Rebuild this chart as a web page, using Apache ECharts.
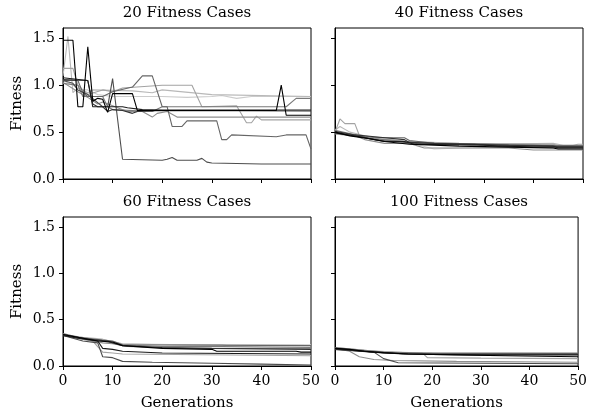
<!DOCTYPE html>
<html>
<head>
<meta charset="utf-8">
<script src="https://cdn.jsdelivr.net/npm/echarts@6/dist/echarts.min.js"></script>
<style>
  html, body { margin: 0; padding: 0; background: #fff; }
  #chart { width: 590px; height: 412px; }
</style>
</head>
<body>
<div id="chart"></div>
<script>
// panel titles and axis ticks
const panelTitles = ["20 Fitness Cases", "40 Fitness Cases", "60 Fitness Cases", "100 Fitness Cases"];
const xTicks = [0, 10, 20, 30, 40, 50];
const yTicks = [0, 0.5, 1.0, 1.5];

// each run: [generation, fitness] at the points where it changes
const runs20 = [
  [[0,1.48],[2,1.48],[3,0.77],[4,0.77],[5,1.41],[6,0.83],[7,0.86],[8,0.85],[9,0.71],[10,0.91],[14,0.91],[15,0.73],[43,0.73],[44,1.0],[45,0.68],[50,0.68]],
  [[0,1.08],[5,1.05],[6,0.77],[12,0.77],[13,0.76],[16,0.74],[20,0.735],[50,0.735]],
  [[0,1.06],[5,1.05],[6,0.8],[7,0.77],[8,0.77],[9,0.72],[10,0.74],[12,0.73],[14,0.7],[15,0.72],[20,0.73],[50,0.725]],
  [[0,1.05],[2,1.02],[3,0.95],[5,0.9],[8,0.77],[9,0.77],[10,1.07],[12,0.21],[20,0.2],[21,0.21],[22,0.23],[23,0.2],[27,0.2],[28,0.22],[29,0.18],[30,0.17],[40,0.16],[50,0.16]],
  [[0,1.05],[3,1.05],[4,0.92],[5,0.88],[8,0.88],[10,0.93],[14,0.98],[16,1.1],[18,1.1],[20,0.77],[21,0.77],[22,0.56],[24,0.56],[25,0.62],[31,0.62],[32,0.42],[33,0.42],[34,0.47],[43,0.45],[45,0.47],[49,0.47],[50,0.32]],
  [[0,1.02],[3,1.0],[4,0.88],[8,0.88],[9,0.77],[10,0.74],[18,0.72],[20,0.77],[45,0.77],[47,0.86],[50,0.86]],
  [[0,1.03],[3,0.93],[5,0.87],[7,0.8],[8,0.82],[10,0.78],[11,0.76],[13,0.72],[16,0.72],[18,0.66],[19,0.7],[21,0.72],[23,0.66],[50,0.66]],
  [[0,1.18],[2,1.18],[3,1.0],[5,0.9],[8,0.95],[10,0.93],[12,0.97],[20,1.0],[26,1.0],[28,0.77],[35,0.78],[37,0.6],[38,0.6],[39,0.67],[40,0.63],[50,0.63]],
  [[0,1.1],[1,1.52],[2,0.92],[3,0.97],[5,0.92],[6,0.95],[14,0.94],[18,0.92],[20,0.95],[30,0.9],[50,0.88]],
  [[0,1.05],[4,0.95],[5,0.95],[7,0.9],[10,0.88],[20,0.88],[25,0.87],[30,0.88],[32,0.89],[35,0.86],[38,0.88],[50,0.88]]
];
const runs40 = [
  [[0,0.5],[3,0.46],[7,0.43],[10,0.4],[15,0.37],[25,0.35],[35,0.34],[44,0.33],[45,0.32],[50,0.32]],
  [[0,0.49],[5,0.45],[8,0.42],[10,0.4],[14,0.4],[16,0.37],[30,0.36],[40,0.34],[50,0.34]],
  [[0,0.51],[4,0.47],[8,0.45],[14,0.42],[15,0.39],[20,0.38],[35,0.36],[44,0.35],[45,0.33],[50,0.33]],
  [[0,0.5],[6,0.44],[9,0.41],[12,0.4],[18,0.37],[28,0.37],[33,0.35],[50,0.35]],
  [[0,0.5],[3,0.47],[6,0.45],[10,0.44],[14,0.44],[15,0.41],[20,0.38],[40,0.36],[45,0.35],[50,0.35]],
  [[0,0.52],[5,0.46],[7,0.43],[12,0.41],[17,0.38],[30,0.37],[44,0.36],[45,0.34],[50,0.34]],
  [[0,0.48],[4,0.46],[6,0.42],[10,0.38],[15,0.38],[18,0.33],[25,0.33],[35,0.33],[40,0.31],[50,0.31]],
  [[0,0.5],[1,0.64],[2,0.59],[4,0.59],[5,0.45],[8,0.43],[15,0.4],[25,0.38],[44,0.37],[45,0.36],[48,0.36],[49,0.37],[50,0.37]],
  [[0,0.52],[1,0.56],[3,0.5],[6,0.46],[10,0.42],[16,0.39],[30,0.37],[44,0.38],[46,0.36],[50,0.36]],
  [[0,0.49],[5,0.45],[8,0.43],[13,0.41],[17,0.36],[20,0.32],[25,0.33],[35,0.34],[40,0.33],[50,0.32]]
];
const runs60 = [
  [[0,0.34],[4,0.3],[7,0.27],[10,0.26],[12,0.22],[20,0.19],[30,0.18],[31,0.16],[47,0.16],[48,0.15],[50,0.15]],
  [[0,0.33],[3,0.3],[7,0.27],[8,0.19],[10,0.18],[12,0.16],[20,0.14],[50,0.13]],
  [[0,0.34],[5,0.29],[7,0.28],[9,0.27],[10,0.25],[12,0.22],[20,0.2],[30,0.19],[50,0.18]],
  [[0,0.33],[4,0.27],[7,0.25],[8,0.1],[10,0.09],[12,0.05],[18,0.04],[30,0.03],[40,0.02],[50,0.01]],
  [[0,0.34],[3,0.31],[8,0.28],[10,0.27],[12,0.23],[50,0.22]],
  [[0,0.35],[4,0.3],[7,0.28],[12,0.23],[20,0.21],[32,0.21],[50,0.2]],
  [[0,0.33],[5,0.28],[8,0.25],[10,0.24],[13,0.21],[25,0.19],[50,0.19]],
  [[0,0.34],[6,0.27],[8,0.15],[10,0.14],[12,0.13],[50,0.11]],
  [[0,0.34],[4,0.31],[8,0.29],[12,0.24],[20,0.23],[32,0.23],[33,0.22],[50,0.22]],
  [[0,0.34],[5,0.3],[9,0.27],[12,0.24],[25,0.23],[50,0.23]]
];
const runs100 = [
  [[0,0.19],[3,0.18],[6,0.16],[10,0.145],[15,0.13],[25,0.12],[35,0.11],[50,0.1]],
  [[0,0.19],[4,0.17],[8,0.15],[14,0.13],[20,0.125],[30,0.12],[50,0.12]],
  [[0,0.18],[5,0.16],[10,0.14],[16,0.13],[30,0.13],[50,0.13]],
  [[0,0.18],[3,0.17],[8,0.15],[10,0.08],[13,0.035],[30,0.03],[50,0.025]],
  [[0,0.19],[6,0.16],[12,0.14],[20,0.13],[50,0.13]],
  [[0,0.2],[4,0.18],[10,0.15],[18,0.14],[30,0.14],[50,0.14]],
  [[0,0.19],[3,0.16],[5,0.1],[8,0.07],[12,0.06],[25,0.05],[50,0.04]],
  [[0,0.19],[5,0.16],[10,0.15],[18,0.14],[19,0.09],[30,0.085],[50,0.08]],
  [[0,0.2],[6,0.17],[12,0.15],[25,0.13],[50,0.12]],
  [[0,0.19],[4,0.17],[9,0.15],[20,0.14],[50,0.135]]
];

const grays = ["#000000", "#1c1c1c", "#333333", "#4d4d4d", "#666666", "#7a7a7a", "#8e8e8e", "#a3a3a3", "#b8b8b8", "#cccccc"];
const font = "DejaVu Serif";

const panels = [runs20, runs40, runs60, runs100];
const grids = [
  { left: 63, top: 28, width: 248, height: 151 },
  { left: 335, top: 28, width: 248, height: 151 },
  { left: 63, top: 217, width: 248, height: 149 },
  { left: 335, top: 217, width: 248, height: 149 }
];

let xAxes = [], yAxes = [], series = [], titles = [];
grids.forEach(function (g, i) {
  g.show = true;
  g.borderColor = "#000";
  g.borderWidth = 1;
  let bottomRow = i >= 2, leftCol = i % 2 === 0;
  titles.push({
    text: panelTitles[i],
    left: g.left + g.width / 2,
    top: g.top - 22,
    textAlign: "center",
    padding: 0,
    textStyle: { fontFamily: font, fontSize: 15, fontWeight: "normal", color: "#000" }
  });
  xAxes.push({
    type: "value", gridIndex: i, min: 0, max: 50, interval: 10,
    axisLine: { show: true, lineStyle: { color: "#000", width: 1 } },
    axisTick: { show: true, inside: false, length: 4, lineStyle: { color: "#000" } },
    axisLabel: { show: bottomRow, margin: 8, fontFamily: font, fontSize: 14, color: "#000", customValues: xTicks },
    splitLine: { show: false },
    name: bottomRow ? "Generations" : "",
    nameLocation: "middle", nameGap: 30,
    nameTextStyle: { fontFamily: font, fontSize: 15, color: "#000" }
  });
  yAxes.push({
    type: "value", gridIndex: i, min: 0, max: 1.61,
    axisLine: { show: true, lineStyle: { color: "#000", width: 1 } },
    axisTick: { show: true, inside: false, length: 4, lineStyle: { color: "#000" }, customValues: yTicks },
    axisLabel: { show: leftCol, margin: 8, fontFamily: font, fontSize: 14, color: "#000",
      customValues: yTicks, formatter: function (v) { return v.toFixed(1); } },
    splitLine: { show: false },
    name: leftCol ? "Fitness" : "",
    nameLocation: "middle", nameGap: 38, nameRotate: 90,
    nameTextStyle: { fontFamily: font, fontSize: 15, color: "#000" }
  });
  panels[i].forEach(function (run, k) {
    series.push({
      type: "line", xAxisIndex: i, yAxisIndex: i, data: run,
      showSymbol: false, symbol: "none",
      lineStyle: { color: grays[k], width: 1.1 },
      z: 20 - k
    });
  });
});

const chart = echarts.init(document.getElementById("chart"), null, { renderer: "canvas" });
chart.setOption({
  animation: false,
  backgroundColor: "#fff",
  title: titles,
  grid: grids,
  xAxis: xAxes,
  yAxis: yAxes,
  series: series
});
</script>
</body>
</html>
